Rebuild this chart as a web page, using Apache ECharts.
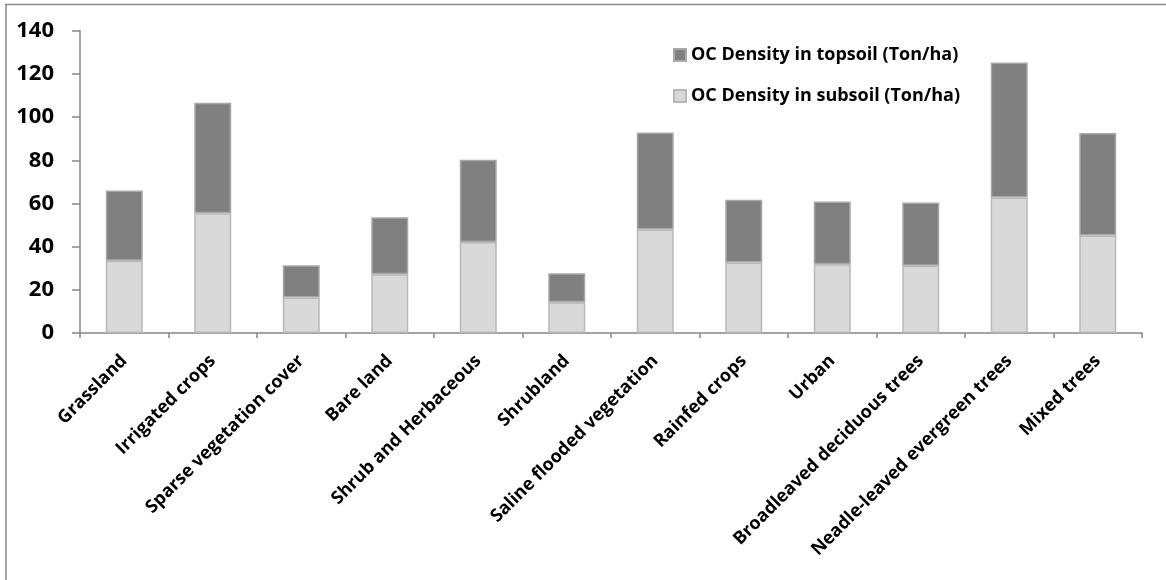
<!DOCTYPE html>
<html>
<head>
<meta charset="utf-8">
<script src="https://cdn.jsdelivr.net/npm/echarts@6/dist/echarts.min.js"></script>
<style>
  html, body { margin: 0; padding: 0; background: #fff; }
  #chart { width: 1166px; height: 580px; }
</style>
</head>
<body>
<div id="chart"></div>
<script>
// Land cover classes
const categories = [
  'Grassland', 'Irrigated crops', 'Sparse vegetation cover', 'Bare land',
  'Shrub and Herbaceous', 'Shrubland', 'Saline flooded vegetation', 'Rainfed crops',
  'Urban', 'Broadleaved deciduous trees', 'Neadle-leaved evergreen trees', 'Mixed trees'
];

// Organic carbon density, Ton/ha
const subsoil = [33.5, 55.5, 16.4, 27.2, 42.2, 14.2, 47.9, 32.6, 31.8, 31.2, 62.7, 45.1];
const topsoil = [32.5, 51.1, 15.0, 26.4, 38.0, 13.5, 45.0, 29.1, 29.1, 29.2, 62.6, 47.5];

const seriesNames = ['OC Density in topsoil (Ton/ha)', 'OC Density in subsoil (Ton/ha)'];
const yTicks = { min: 0, max: 140, interval: 20 };

const FONT = '"Open Sans", Lato, sans-serif';

const chart = echarts.init(document.getElementById('chart'), null, { renderer: 'canvas' });

chart.setOption({
  backgroundColor: '#ffffff',
  animation: false,
  graphic: [
    { type: 'line', shape: { x1: 5, y1: 4.5, x2: 1170, y2: 4.5 }, style: { stroke: '#8a8a8a', lineWidth: 1.5 } },
    { type: 'line', shape: { x1: 6, y1: 4, x2: 6, y2: 590 }, style: { stroke: '#8a8a8a', lineWidth: 1.5 } }
  ],
  grid: { left: 80, right: 24, top: 30.7, bottom: 247, containLabel: false },
  legend: {
    orient: 'vertical',
    left: 668,
    top: 40,
    itemWidth: 12,
    itemHeight: 12,
    itemGap: 21,
    data: [seriesNames[0], seriesNames[1]],
    textStyle: { fontFamily: FONT, fontWeight: 'bold', fontSize: 18, color: '#000', lineHeight: 20 },
    icon: 'rect'
  },
  xAxis: {
    type: 'category',
    data: categories,
    axisLine: { lineStyle: { color: '#868686', width: 1.5 } },
    axisTick: { show: true, length: 5, lineStyle: { color: '#868686', width: 1.5 } },
    axisLabel: {
      rotate: 45,
      interval: 0,
      margin: 25,
      padding: [27, 0, 0, 0],
      fontFamily: FONT,
      fontWeight: 'bold',
      fontSize: 18,
      color: '#000'
    }
  },
  yAxis: {
    type: 'value',
    min: yTicks.min,
    max: yTicks.max,
    interval: yTicks.interval,
    splitLine: { show: false },
    axisLine: { show: true, lineStyle: { color: '#868686', width: 1.5 } },
    axisTick: { show: true, length: 8, lineStyle: { color: '#868686', width: 1.5 } },
    axisLabel: {
      margin: 26,
      fontFamily: FONT,
      fontWeight: 'bold',
      fontSize: 22,
      color: '#000'
    }
  },
  series: [
    {
      name: seriesNames[1],
      type: 'bar',
      stack: 'oc',
      barWidth: 37,
      data: subsoil,
      itemStyle: { color: '#d9d9d9', borderColor: '#b8b8b8', borderWidth: 1.5 }
    },
    {
      name: seriesNames[0],
      type: 'bar',
      stack: 'oc',
      barWidth: 37,
      data: topsoil,
      itemStyle: { color: '#808080', borderColor: '#a8a8a8', borderWidth: 1.5 }
    }
  ]
});
</script>
</body>
</html>
